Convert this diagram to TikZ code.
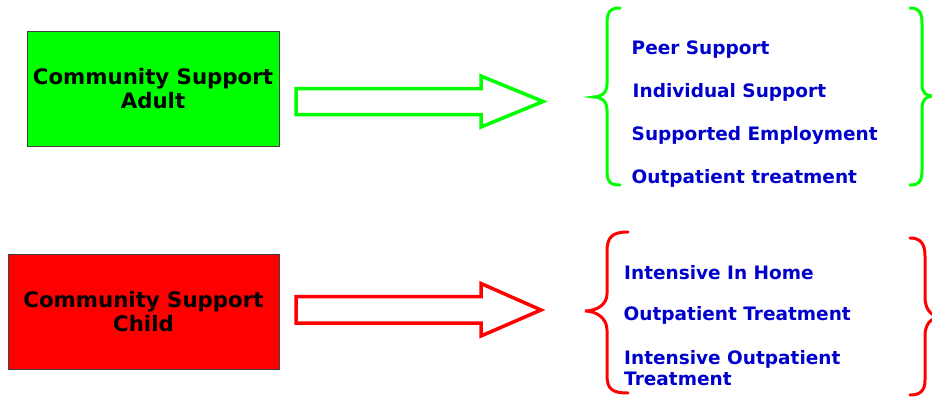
\documentclass[tikz,border=0pt]{standalone}
\usepackage{fontspec}
\setmainfont{DejaVu Sans}
\definecolor{grn}{RGB}{0,255,0}
\definecolor{rd}{RGB}{255,0,0}
\definecolor{txtblue}{RGB}{0,0,204}
\begin{document}
\begin{tikzpicture}[x=1pt,y=-1pt,
  catbox/.style={draw=black!75,line width=1pt,minimum width=252pt,minimum height=115pt,
    align=center,font=\fontsize{21.3}{24}\selectfont\bfseries,text=black,inner sep=0pt},
  item/.style={anchor=west,font=\fontsize{18.5}{20.5}\selectfont\bfseries,text=txtblue,inner sep=0pt,align=left},
  blockarrow/.style={line width=3.5pt,fill=white,line join=miter},
  bracepath/.style={line width=3pt,line cap=round}]
\useasboundingbox (0,0) rectangle (932,400);
% boxes
\node[catbox,fill=grn] (adult) at (153,89) {Community Support\\Adult};
\node[catbox,fill=rd,minimum width=271pt] (child) at (143.5,311.5) {Community Support\\Child};
% block arrows
\draw[blockarrow,draw=grn] (296,88.5) -- (481,88.5) -- (481,76) -- (543,101.5) -- (481,127) -- (481,114.5) -- (296,114.5) -- cycle;
\draw[blockarrow,draw=rd] (296,296.5) -- (481,296.5) -- (481,283.5) -- (541,310) -- (481,336) -- (481,323) -- (296,323) -- cycle;
% green braces
\draw[bracepath,draw=grn] (620,8) .. controls (610,8) and (607,12) .. (607,24) -- (607,84)
  .. controls (607,94) and (600,97) .. (594,97) .. controls (600,97) and (607,100) .. (607,110)
  -- (607,170) .. controls (607,182) and (610,185) .. (620,185);
\draw[bracepath,draw=grn] (910,8) .. controls (919,8) and (922,12) .. (922,24) -- (922,84)
  .. controls (922,94) and (927,96) .. (933,96) .. controls (927,96) and (922,99) .. (922,109)
  -- (922,170) .. controls (922,182) and (919,185) .. (910,185);
% red braces
\draw[bracepath,draw=rd] (628,232) .. controls (612,232) and (607,237) .. (607,252) -- (607,294)
  .. controls (607,305) and (596,311) .. (585,311) .. controls (596,311) and (607,318) .. (607,330)
  -- (607,375) .. controls (607,389) and (612,393) .. (628,393);
\draw[bracepath,draw=rd] (910,238) .. controls (920,238) and (925,243) .. (925,256) -- (925,297)
  .. controls (925,308) and (930,316) .. (940,317) .. controls (930,318) and (925,325) .. (925,336)
  -- (925,380) .. controls (925,391) and (920,395) .. (910,395);
% adult items
\node[item] (peer) at (631.5,49.5) {Peer Support};
\node[item] (indiv) at (632.5,92) {Individual Support};
\node[item] (emp) at (631.5,135.5) {Supported Employment};
\node[item] (outp) at (631.5,178) {Outpatient treatment};
% child items
\node[item] (home) at (624,272.5) {Intensive In Home};
\node[item] (outt) at (623.5,315) {Outpatient Treatment};
\node[item] (iop) at (624,368) {Intensive Outpatient\\Treatment};
\end{tikzpicture}
\end{document}
